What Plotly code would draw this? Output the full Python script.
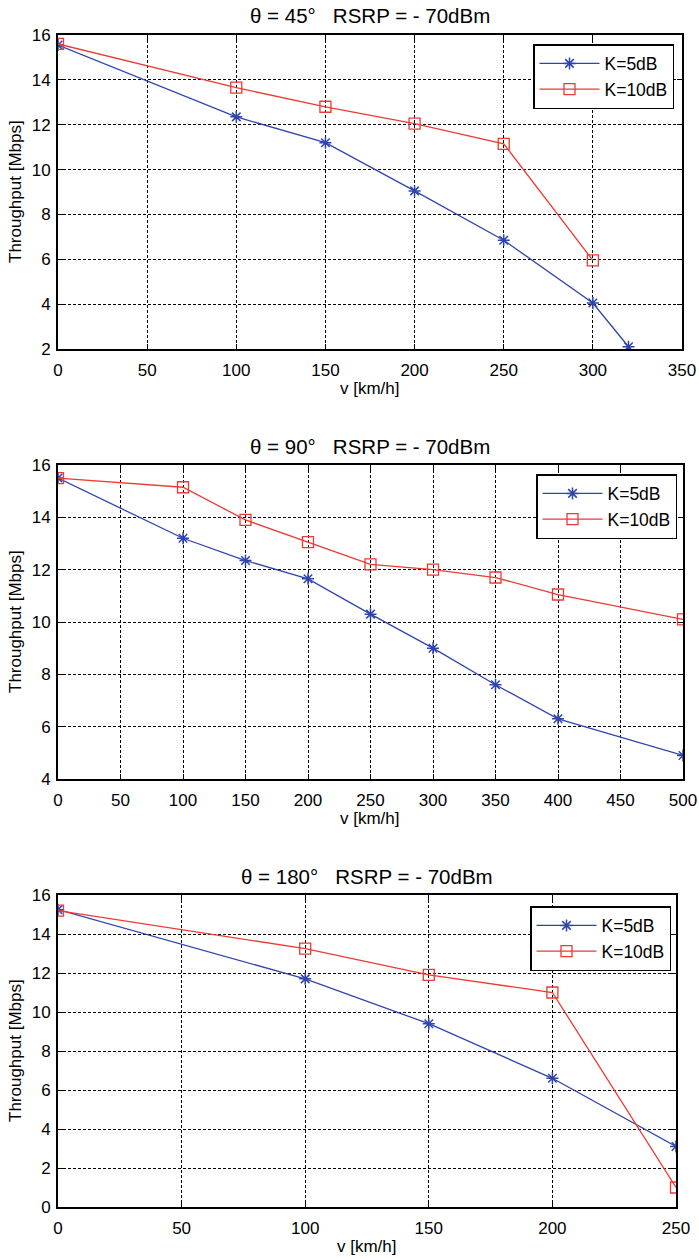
import plotly.graph_objects as go

# panel 1: theta = 45 deg
v45_k5 = [0, 100, 150, 200, 250, 300, 320]
tp45_k5 = [15.55, 12.35, 11.2, 9.05, 6.85, 4.05, 2.1]
v45_k10 = [0, 100, 150, 200, 250, 300]
tp45_k10 = [15.6, 13.65, 12.8, 12.05, 11.15, 5.95]

# panel 2: theta = 90 deg
v90_k5 = [0, 100, 150, 200, 250, 300, 350, 400, 500]
tp90_k5 = [15.5, 13.2, 12.35, 11.65, 10.3, 9.0, 7.6, 6.3, 4.9]
v90_k10 = [0, 100, 150, 200, 250, 300, 350, 400, 500]
tp90_k10 = [15.5, 15.15, 13.9, 13.05, 12.2, 12.0, 11.7, 11.05, 10.1]

# panel 3: theta = 180 deg
v180_k5 = [0, 100, 150, 200, 250]
tp180_k5 = [15.25, 11.7, 9.4, 6.6, 3.1]
v180_k10 = [0, 100, 150, 200, 250]
tp180_k10 = [15.2, 13.25, 11.9, 11.0, 1.0]

titles = ["θ = 45°   RSRP = - 70dBm", "θ = 90°   RSRP = - 70dBm", "θ = 180°   RSRP = - 70dBm"]
x_ranges = [[0, 350], [0, 500], [0, 250]]
y_ranges = [[2, 16], [4, 16], [0, 16]]

W, H = 699, 1259
FONT = "Liberation Sans, Arial, sans-serif"
BLUE = "#2f44b0"
RED = "#ee3a33"

# plot areas in pixels: left, right, top, bottom
boxes = [(58, 682, 35, 349), (58, 683, 465, 779), (58, 676, 895, 1207)]
# legend boxes in pixels: right, top
legend_pos = [(674, 44), (677, 474), (671, 906)]

series = [
    (v45_k5, tp45_k5, v45_k10, tp45_k10),
    (v90_k5, tp90_k5, v90_k10, tp90_k10),
    (v180_k5, tp180_k5, v180_k10, tp180_k10),
]

fig = go.Figure()
layout = dict(width=W, height=H, margin=dict(l=0, r=0, t=0, b=0, autoexpand=False),
              paper_bgcolor="white", plot_bgcolor="white",
              font=dict(family=FONT, size=17, color="black"),
              annotations=[])

for i, (vx5, ty5, vx10, ty10) in enumerate(series):
    n = "" if i == 0 else str(i + 1)
    leg = "legend" + n
    fig.add_trace(go.Scatter(
        x=vx5, y=ty5, mode="lines+markers", name="K=5dB",
        xaxis="x" + n, yaxis="y" + n, legend=leg,
        line=dict(color=BLUE, width=1.3),
        marker=dict(symbol="asterisk-open", size=10, line=dict(color=BLUE, width=1.5))))
    fig.add_trace(go.Scatter(
        x=vx10, y=ty10, mode="lines+markers", name="K=10dB",
        xaxis="x" + n, yaxis="y" + n, legend=leg,
        line=dict(color=RED, width=1.3),
        marker=dict(symbol="square-open", size=11, line=dict(color=RED, width=1.3))))

    l, r, t, b = boxes[i]
    axis_common = dict(showline=True, linecolor="black", linewidth=2, mirror="ticks",
                       ticks="inside", ticklen=5, tickcolor="black", automargin=False,
                       showgrid=True, gridcolor="black", gridwidth=1, griddash="3px,2px",
                       zeroline=False, tickfont=dict(size=17), dtick=50)
    layout["xaxis" + n] = dict(axis_common, domain=[l / W, r / W], range=x_ranges[i],
                               anchor="y" + n, ticklabelstandoff=5)
    yax = dict(axis_common, domain=[1 - b / H, 1 - t / H], range=y_ranges[i],
               anchor="x" + n, ticklabelstandoff=2)
    yax["dtick"] = 2
    layout["yaxis" + n] = yax

    xd, yd = "x" + n + " domain", "y" + n + " domain"
    layout["annotations"] += [
        dict(text=titles[i], xref=xd, yref=yd, x=0.5, y=1, yshift=19,
             showarrow=False, xanchor="center", yanchor="middle", font=dict(size=20.5)),
        dict(text="v [km/h]", xref=xd, yref=yd, x=0.5, y=0, yshift=-39,
             showarrow=False, xanchor="center", yanchor="middle", font=dict(size=17)),
        dict(text="Throughput [Mbps]", xref=xd, yref=yd, x=0, y=0.5, xshift=-43,
             showarrow=False, xanchor="center", yanchor="middle", textangle=-90,
             font=dict(size=17)),
    ]

    lx, ly = legend_pos[i]
    layout[leg] = dict(x=lx / W, y=1 - ly / H, xanchor="right", yanchor="top",
                       xref="paper", yref="paper", tracegroupgap=4,
                       bgcolor="white", bordercolor="black", borderwidth=1.5,
                       font=dict(size=17.5), itemwidth=60)

fig.update_layout(**layout)
# drop the default page margin so the figure fills the window exactly
fig.write_html("out.html", config={"displayModeBar": False},
               post_script="document.body.style.margin='0';document.body.style.overflow='hidden';")
